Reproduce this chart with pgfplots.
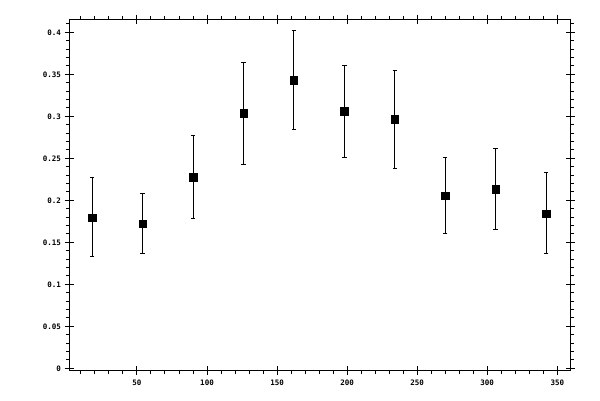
\documentclass[border=0pt]{standalone}
\usepackage{pgfplots}
\pgfplotsset{compat=1.18}
\usepackage{pgfplotstable}
\usepackage{fontspec}
\setmainfont{DejaVu Sans Mono}

\pgfplotstableread{
x    y      e
18   0.1796 0.0470
54   0.1724 0.0352
90   0.2273 0.0495
126  0.3036 0.0610
162  0.3429 0.0590
198  0.3060 0.0545
234  0.2964 0.0580
270  0.2058 0.0453
306  0.2130 0.0483
342  0.1844 0.0483
}\datatable

\pgfplotsset{
  frame/.style={
    at={(69.3pt,29.7pt)}, anchor=south west,
    scale only axis, width=501pt, height=351pt,
    xmin=1.7, xmax=359.3, ymin=-0.0024, ymax=0.4155,
    xtick={50,100,...,350},
    ytick={0,0.05,...,0.4},
    minor xtick={10,20,30,40,60,70,80,90,110,120,130,140,160,170,180,190,210,220,230,240,260,270,280,290,310,320,330,340},
    minor ytick={0.01,0.02,0.03,0.04,0.06,0.07,0.08,0.09,0.11,0.12,0.13,0.14,0.16,0.17,0.18,0.19,0.21,0.22,0.23,0.24,0.26,0.27,0.28,0.29,0.31,0.32,0.33,0.34,0.36,0.37,0.38,0.39,0.41},
    axis line style={line width=1pt},
    every tick/.style={black, line width=1pt},
  }
}

\begin{document}
\fontsize{7.5}{9}\selectfont
\begin{tikzpicture}
\path[use as bounding box] (0,0) rectangle (600pt,400pt);
% minor ticks, outward
\begin{axis}[frame,
  tick align=outside,
  major tick length=0pt,
  minor tick length=3.3pt,
  xticklabels={}, yticklabels={},
]
\end{axis}
% major ticks across the frame, labels and data
\begin{axis}[frame,
  tick align=center,
  major tick length=9.3pt,
  minor tick length=0pt,
  /pgf/number format/assume math mode=true,
  /pgf/number format/fixed,
  /pgf/number format/precision=2,
  tick label style={font=\fontsize{7.5}{9}\selectfont\bfseries},
  xticklabel style={yshift=-2pt},
  yticklabel style={xshift=-1pt},
]
\addplot[only marks, mark=square*, mark size=3.7pt, black,
  error bars/.cd, y dir=both, y explicit,
  error bar style={line width=1pt, black},
  error mark options={rotate=90, mark size=2.2pt, line width=1pt, black}]
  table[x=x, y=y, y error=e] {\datatable};
\end{axis}
\end{tikzpicture}
\end{document}
